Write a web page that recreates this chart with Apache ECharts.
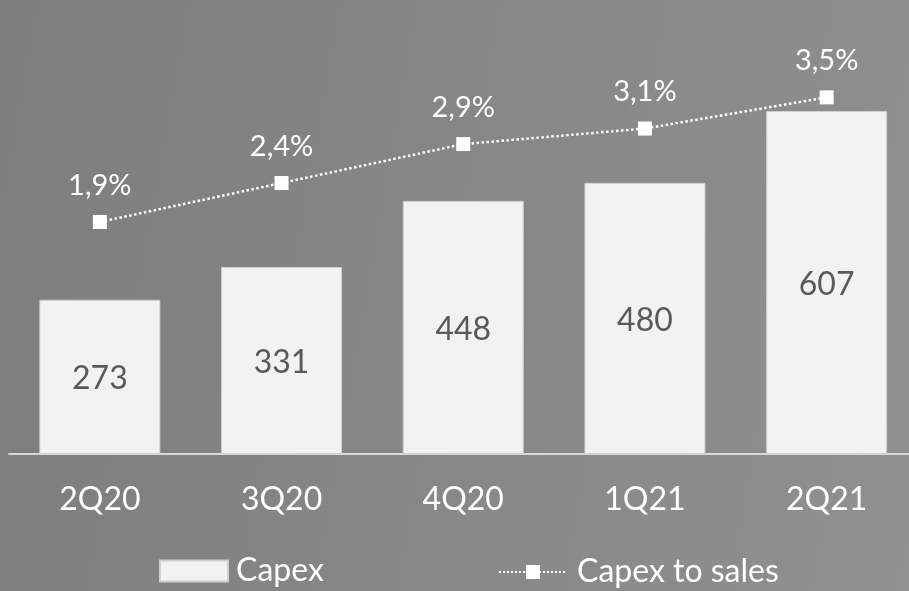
<!DOCTYPE html>
<html>
<head>
<meta charset="utf-8">
<script src="https://cdn.jsdelivr.net/npm/echarts@6/dist/echarts.min.js"></script>
<style>
html,body{margin:0;padding:0;overflow:hidden;width:909px;height:591px;background:linear-gradient(100deg,#7d7d7d 0%,#858585 40%,#909090 100%);}
#c{width:924px;height:591px;}
</style>
</head>
<body>
<div id="c"></div>
<script>
const categories = ['2Q20', '3Q20', '4Q20', '1Q21', '2Q21'];
const capex = [273, 331, 448, 480, 607];
const capexToSales = [1.9, 2.4, 2.9, 3.1, 3.5];

const chart = echarts.init(document.getElementById('c'));
const FONT = 'Lato';
chart.setOption({
  backgroundColor: 'transparent',
  animation: false,
  textStyle: { fontFamily: FONT },
  grid: { left: 9, top: 2, width: 908.5, height: 452 },
  legend: [
    {
      data: ['Capex'],
      icon: 'rect',
      left: 154, top: 550,
      itemWidth: 68, itemHeight: 21,
      padding: 5,
      textStyle: { color: '#ffffff', fontSize: 32, fontFamily: FONT, lineHeight: 32, padding: [0, 0, 0, 3] }
    },
    {
      data: ['Capex to sales'],
      left: 493, top: 551,
      itemWidth: 68, itemHeight: 17.5,
      padding: 5,
      textStyle: { color: '#ffffff', fontSize: 32, fontFamily: FONT, lineHeight: 32, padding: [0, 0, 0, 5] }
    }
  ],
  xAxis: {
    type: 'category',
    data: categories,
    axisLine: { lineStyle: { color: '#d9d9d9', width: 2 } },
    axisTick: { show: false },
    axisLabel: { color: '#ffffff', fontSize: 32, fontFamily: FONT, margin: 30 }
  },
  yAxis: [
    { type: 'value', min: 0, max: 800, show: false, splitLine: { show: false } },
    { type: 'value', min: -1.08, max: 4.725, show: false, splitLine: { show: false } }
  ],
  series: [
    {
      name: 'Capex',
      type: 'bar',
      data: capex,
      barWidth: 121,
      itemStyle: { color: '#f2f2f2', borderColor: '#d0d0d0', borderWidth: 1 },
      label: {
        show: true, position: 'inside', color: '#595959',
        fontSize: 32, fontFamily: FONT, offset: [0, 2]
      }
    },
    {
      name: 'Capex to sales',
      type: 'line',
      yAxisIndex: 1,
      data: capexToSales,
      symbol: 'rect',
      symbolSize: 14,
      itemStyle: { color: '#ffffff' },
      lineStyle: { color: '#ffffff', width: 2.5, type: 'dotted' },
      label: {
        show: true, position: 'top', distance: 15, color: '#ffffff',
        fontSize: 29, fontFamily: FONT, lineHeight: 29,
        formatter: p => p.value.toFixed(1).replace('.', ',') + '%'
      }
    }
  ]
});
</script>
</body>
</html>
